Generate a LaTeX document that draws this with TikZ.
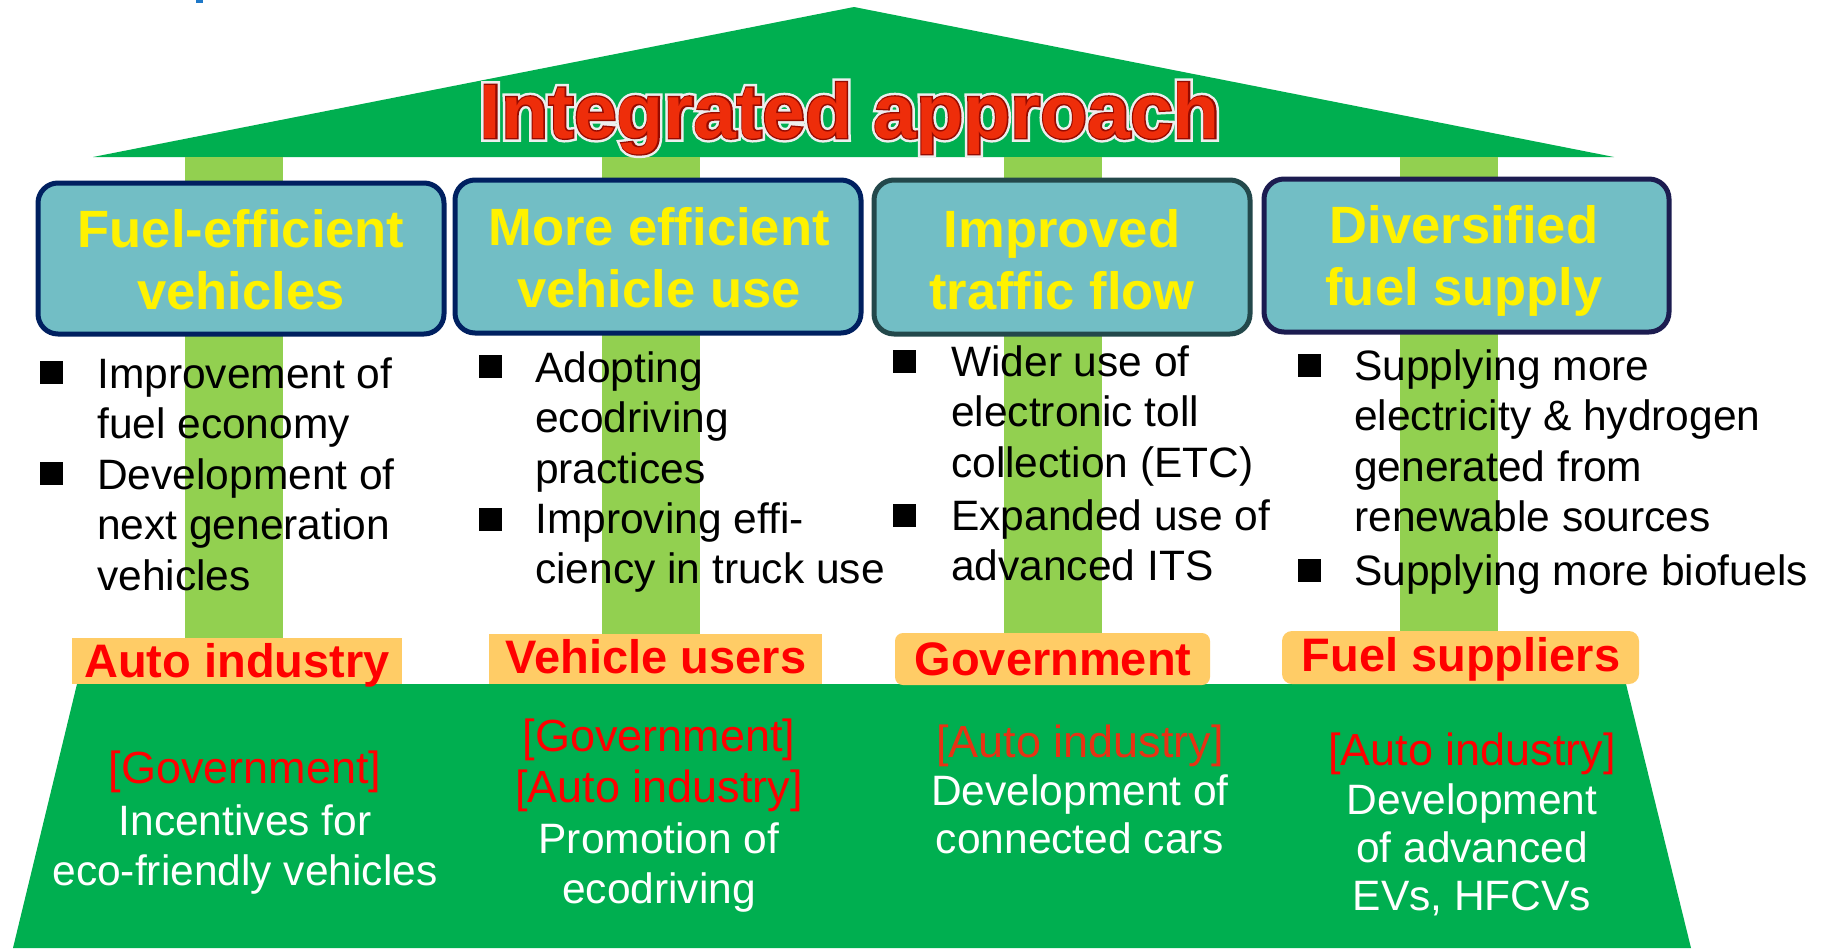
\documentclass[tikz,border=0pt]{standalone}
\usepackage{fontspec}
\usetikzlibrary{calc}
\setmainfont{Liberation Sans}
\newfontfamily\halofont{Liberation Sans}[FakeBold=10]
\newfontfamily\edgefont{Liberation Sans}[FakeBold=3.5]
\definecolor{roofgreen}{RGB}{0,175,80}
\definecolor{pillargreen}{RGB}{146,208,80}
\definecolor{boxfill}{RGB}{114,190,197}
\definecolor{navyedge}{RGB}{0,32,96}
\definecolor{slateedge}{RGB}{35,72,75}
\definecolor{indigoedge}{RGB}{28,28,80}
\definecolor{labelfill}{RGB}{255,204,102}
\definecolor{titlered}{RGB}{238,45,10}
\definecolor{titleedge}{RGB}{150,10,0}
\definecolor{titlehalo}{RGB}{238,238,238}
\definecolor{actorred}{RGB}{255,0,0}
\definecolor{actororange}{RGB}{232,50,20}
\definecolor{speckblue}{RGB}{30,120,200}
\begin{document}
\begin{tikzpicture}[x=1pt,y=-1pt,
  goalbox/.style={rounded corners=20pt,fill=boxfill,line width=5pt},
  goaltext/.style={anchor=base,align=center,inner sep=0pt,text=yellow,
    font=\fontsize{52.5}{62}\selectfont\bfseries},
  titletext/.style={anchor=base,inner sep=0pt},
  bullettext/.style={anchor=base west,align=left,inner sep=0pt,
    font=\fontsize{42.5}{50.5}\selectfont},
  bulletmark/.style={fill=black,minimum size=23pt,inner sep=0pt,draw=none},
  labeltext/.style={anchor=base,inner sep=0pt,text=actorred,
    font=\fontsize{47}{56}\selectfont\bfseries},
  roletext/.style={anchor=base,align=center,inner sep=0pt,text=actorred,
    font=\fontsize{45}{51}\selectfont},
  measuretext/.style={anchor=base,align=center,inner sep=0pt,text=white,
    font=\fontsize{42.5}{50}\selectfont}]

% canvas (multi-line nodes are placed by the baseline of their last line)
\path[use as bounding box,fill=white] (0,0) rectangle (1827,948);
\fill[speckblue] (196,0) rectangle (203,3);

% roof
\fill[roofgreen] (93,157) -- (854,7) -- (1614,157) -- cycle;

% pillars
\fill[pillargreen] (185,157) rectangle (283,645);
\fill[pillargreen] (602,157) rectangle (700,645);
\fill[pillargreen] (1004,157) rectangle (1102,645);
\fill[pillargreen] (1400,157) rectangle (1498,645);

% title: halo, dark rim, red face
\node[titletext,text=titlehalo,font=\fontsize{77}{90}\selectfont\halofont\bfseries]
  (titlehalo) at (850,138) {Integrated approach};
\node[titletext,text=titleedge,font=\fontsize{77}{90}\selectfont\edgefont\bfseries]
  (titlerim) at (850,138) {Integrated approach};
\node[titletext,text=titlered,font=\fontsize{77}{90}\selectfont\bfseries]
  (title) at (850,138) {Integrated approach};

% goal boxes
\draw[goalbox,draw=navyedge]   (38,183)   rectangle (444,334);
\draw[goalbox,draw=navyedge]   (455,180)  rectangle (861,333);
\draw[goalbox,draw=slateedge]  (874,180)  rectangle (1250,334);
\draw[goalbox,draw=indigoedge] (1264,179) rectangle (1669,332);

\node[goaltext] (goal1) at (241,309)  {Fuel-efficient\\vehicles};
\node[goaltext] (goal2) at (659,307)  {More efficient\\vehicle use};
\node[goaltext] (goal3) at (1062,309) {Improved\\traffic flow};
\node[goaltext] (goal4) at (1464,305) {Diversified\\fuel supply};

% measures of each party
\node[bulletmark] (m1a) at (51,372)  {};
\node[bullettext] (t1a) at (97,438.5)  {Improvement of\\fuel economy};
\node[bulletmark] (m1b) at (51,473)  {};
\node[bullettext] (t1b) at (97,590)  {Development of\\next generation\\vehicles};

\node[bulletmark] (m2a) at (490,366) {};
\node[bullettext] (t2a) at (535,483) {Adopting\\ecodriving\\practices};
\node[bulletmark] (m2b) at (490,519) {};
\node[bullettext] (t2b) at (535,583.5) {Improving effi-\\ciency in truck use};

\node[bulletmark] (m3a) at (904,361) {};
\node[bullettext] (t3a) at (951,477) {Wider use of\\electronic toll\\collection (ETC)};
\node[bulletmark] (m3b) at (904,515) {};
\node[bullettext] (t3b) at (951,580.5) {Expanded use of\\advanced ITS};

\node[bulletmark] (m4a) at (1309,365) {};
\node[bullettext] (t4a) at (1354,531.5) {Supplying more\\electricity \& hydrogen\\generated from\\renewable sources};
\node[bulletmark] (m4b) at (1309,570) {};
\node[bullettext] (t4b) at (1354,585) {Supplying more biofuels};

% foundation
\fill[roofgreen] (77,684) -- (1626,684) -- (1691,948) -- (13,948) -- cycle;

% party labels
\fill[labelfill] (72,638) rectangle (402,684);
\fill[labelfill] (489,634) rectangle (822,684);
\fill[labelfill,rounded corners=8pt] (895,633) rectangle (1210,685);
\fill[labelfill,rounded corners=10pt] (1282,631) rectangle (1639,684);

\node[labeltext] (party1) at (237,677)  {Auto industry};
\node[labeltext] (party2) at (656,673)  {Vehicle users};
\node[labeltext] (party3) at (1053,675) {Government};
\node[labeltext] (party4) at (1461,671) {Fuel suppliers};

% supporting roles
\node[roletext] (role1) at (245,783)  {[Government]};
\node[measuretext] (sup1) at (245,885) {Incentives for\\eco-friendly vehicles};

\node[roletext] (role2) at (659,802)  {[Government]\\{}[Auto industry]};
\node[measuretext] (sup2) at (659,903) {Promotion of\\ecodriving};

\node[roletext,text=actororange] (role3) at (1080,757) {[Auto industry]};
\node[measuretext,font=\fontsize{42.5}{48}\selectfont] (sup3) at (1080,853) {Development of\\connected cars};

\node[roletext] (role4) at (1472,765) {[Auto industry]};
\node[measuretext,font=\fontsize{42.5}{48}\selectfont] (sup4) at (1472,910) {Development\\of advanced\\EVs, HFCVs};
\end{tikzpicture}
\end{document}
